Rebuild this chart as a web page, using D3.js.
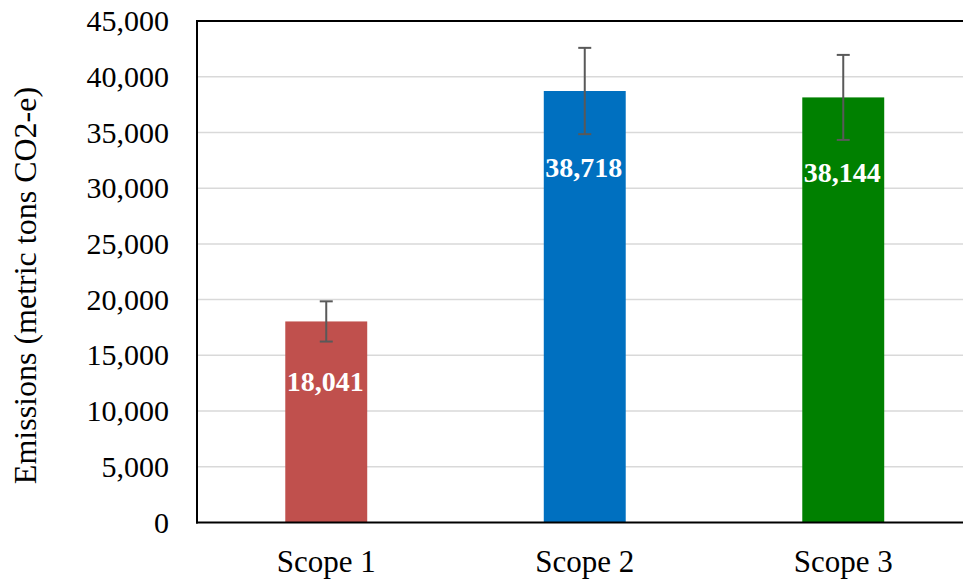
<!DOCTYPE html>
<html>
<head>
<meta charset="utf-8">
<script src="https://cdn.jsdelivr.net/npm/d3@7/dist/d3.min.js"></script>
<style>
  html, body { margin: 0; padding: 0; background: #fff; }
  svg { display: block; }
  text { font-family: "Liberation Serif", "Times New Roman", serif; }
</style>
</head>
<body>
<div id="chart"></div>
<script>
const categories = ["Scope 1", "Scope 2", "Scope 3"];
const values = [18041, 38718, 38144];
const errors = [1804, 3872, 3814];
const colors = ["#C0504D", "#0070C0", "#008000"];
const yTicks = [0, 5000, 10000, 15000, 20000, 25000, 30000, 35000, 40000, 45000];
const labelOffsets = [70, 86, 85];

const W = 963, H = 579;
const margin = { left: 197, top: 21, bottom: 57, rightEdge: 972.5 };
const plotBottom = H - margin.bottom + 0.5;
const serif = '"Liberation Serif", "Times New Roman", serif';

const svg = d3.select("#chart").append("svg").attr("width", W).attr("height", H);

const x = d3.scaleBand().domain(categories)
  .range([margin.left, margin.rightEdge])
  .paddingInner(0.683).paddingOuter(0.3415);
const y = d3.scaleLinear().domain([0, 45000]).range([plotBottom, margin.top]);

// gridlines
svg.append("g").selectAll("line").data(yTicks.filter(d => d > 0 && d < 45000)).join("line")
  .attr("x1", margin.left).attr("x2", W)
  .attr("y1", d => y(d)).attr("y2", d => y(d))
  .attr("stroke", "#d9d9d9").attr("stroke-width", 1.5);

// y axis labels
const yAxis = d3.axisLeft(y).tickValues(yTicks).tickSize(0).tickPadding(28)
  .tickFormat(d3.format(","));
const gy = svg.append("g").attr("transform", `translate(${margin.left},0)`).call(yAxis);
gy.select(".domain").remove();
gy.attr("font-family", serif);
gy.selectAll("text").attr("font-size", 30).attr("fill", "#000").style("font-family", serif);

// bars
svg.append("g").selectAll("rect").data(values).join("rect")
  .attr("x", (d, i) => x(categories[i]))
  .attr("width", x.bandwidth())
  .attr("y", d => y(d))
  .attr("height", d => plotBottom - y(d))
  .attr("fill", (d, i) => colors[i]);

// error bars
const eg = svg.append("g").attr("stroke", "#595959").attr("stroke-width", 2);
values.forEach((v, i) => {
  const cx = x(categories[i]) + x.bandwidth() / 2;
  eg.append("line").attr("x1", cx).attr("x2", cx).attr("y1", y(v + errors[i])).attr("y2", y(v - errors[i]));
  eg.append("line").attr("x1", cx - 6.5).attr("x2", cx + 6.5).attr("y1", y(v + errors[i])).attr("y2", y(v + errors[i]));
  eg.append("line").attr("x1", cx - 6.5).attr("x2", cx + 6.5).attr("y1", y(v - errors[i])).attr("y2", y(v - errors[i]));
});

// value labels
svg.append("g").selectAll("text").data(values).join("text")
  .attr("x", (d, i) => x(categories[i]) + x.bandwidth() / 2 - 1)
  .attr("y", (d, i) => y(d) + labelOffsets[i])
  .attr("text-anchor", "middle")
  .attr("font-size", 28).attr("font-weight", "bold").attr("fill", "#fff")
  .text(d => d3.format(",")(d));

// frame lines: left, top, bottom
svg.append("line").attr("x1", margin.left).attr("x2", margin.left)
  .attr("y1", margin.top - 1).attr("y2", plotBottom + 1)
  .attr("stroke", "#000").attr("stroke-width", 2);
svg.append("line").attr("x1", margin.left - 1).attr("x2", W)
  .attr("y1", margin.top).attr("y2", margin.top)
  .attr("stroke", "#000").attr("stroke-width", 2);
svg.append("line").attr("x1", margin.left - 1).attr("x2", W)
  .attr("y1", plotBottom).attr("y2", plotBottom)
  .attr("stroke", "#000").attr("stroke-width", 2);

// x category labels
const xAxis = d3.axisBottom(x).tickSize(0).tickPadding(0);
const gx = svg.append("g").attr("transform", `translate(0,${plotBottom})`).call(xAxis);
gx.select(".domain").remove();
gx.attr("font-family", serif);
gx.selectAll("text").attr("font-size", 31).attr("fill", "#000").attr("dy", null)
  .attr("y", 49).style("font-family", serif);

// y title
svg.append("text")
  .attr("transform", `translate(36,${285.5}) rotate(-90)`)
  .attr("text-anchor", "middle")
  .attr("font-size", 32).attr("fill", "#000")
  .text("Emissions (metric tons CO2-e)");
</script>
</body>
</html>
